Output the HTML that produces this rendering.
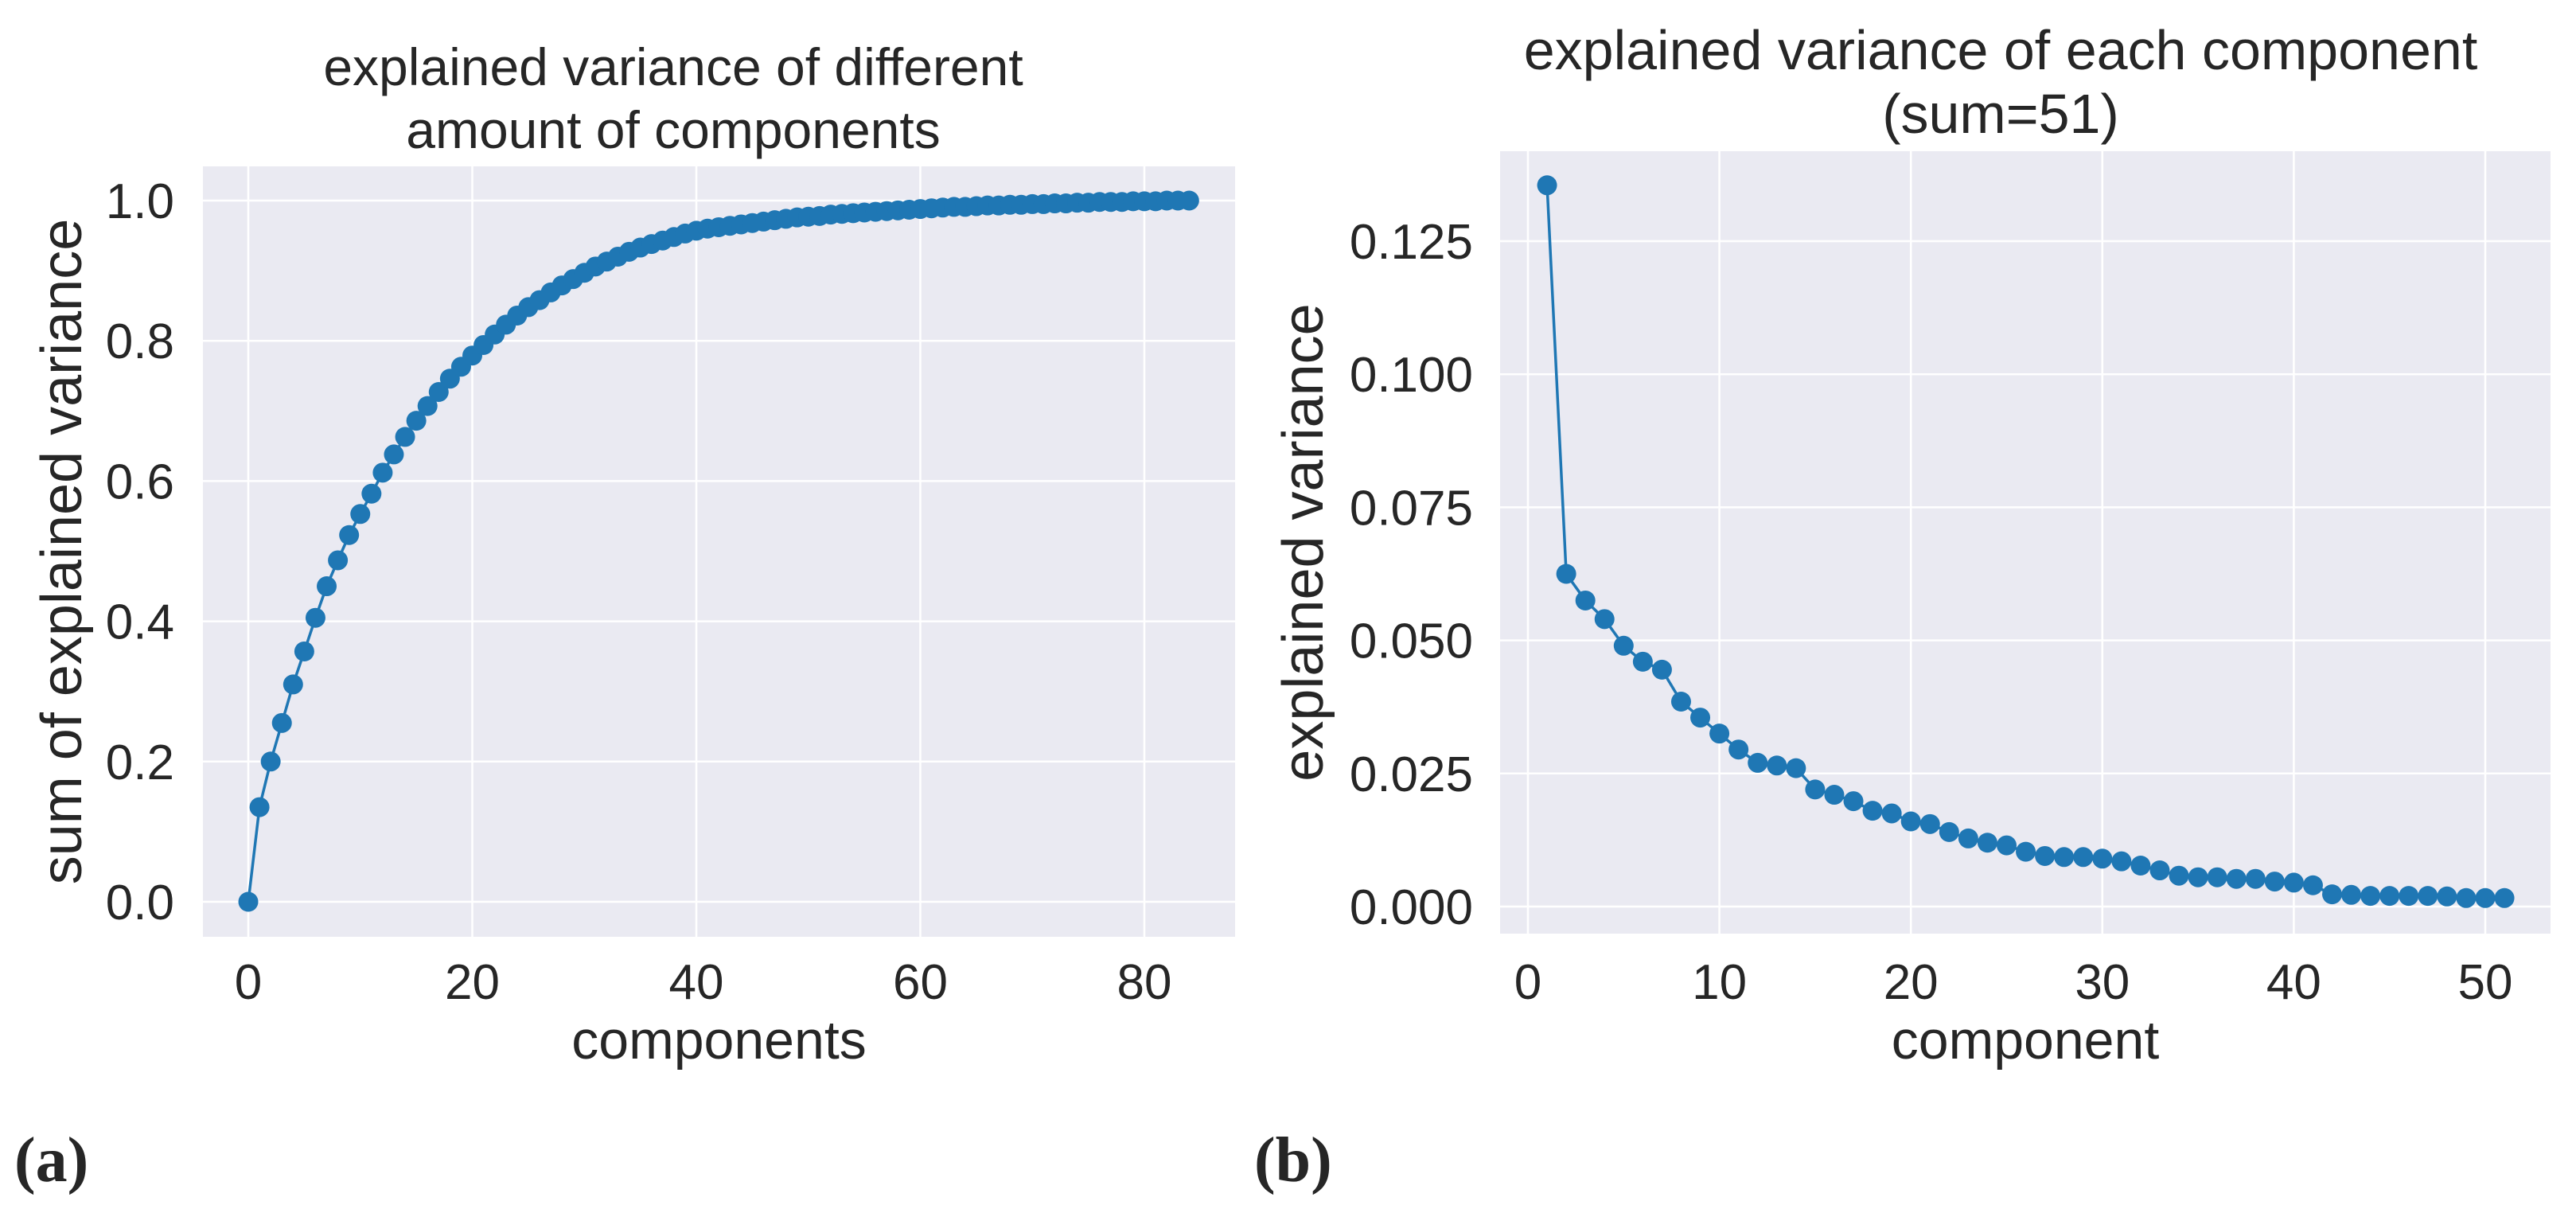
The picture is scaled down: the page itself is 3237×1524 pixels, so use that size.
<!DOCTYPE html>
<html><head><meta charset="utf-8"><style>
html,body{margin:0;padding:0;background:#fff}
svg{display:block}
text{font-family:"Liberation Sans",sans-serif;fill:#262626}
</style></head><body>
<svg id="c" width="3237" height="1524" xmlns="http://www.w3.org/2000/svg"></svg>
<script>
const cumValues = [0,.135,.2,.255,.31,.357,.405,.45,.487,.523,
.553,.582,.612,.638,.663,.686,.707,.727,.746,.763,
.779,.794,.809,.823,.836,.848,.858,.869,.879,.888,
.897,.906,.913,.92,.927,.933,.938,.943,.948,.953,
.957,.96,.962,.964,.966,.968,.97,.972,.974,.976,
.977,.978,.98,.981,.982,.983,.984,.985,.986,.987,
.988,.989,.99,.991,.991,.992,.993,.993,.994,.994,
.995,.995,.996,.996,.997,.997,.998,.998,.998,.999,
.999,.999,1,1,1];
const leftXTicks = [0,20,40,60,80];
const leftYTicks = [0,0.2,0.4,0.6,0.8,1.0];
const leftYLabels = ["0.0","0.2","0.4","0.6","0.8","1.0"];
const compValues = [.1355,.0625,.0575,.054,.049,.046,.0445,.0385,.0355,.0325,
.0295,.027,.0265,.026,.022,.021,.0198,.018,.0175,.016,
.0155,.014,.0128,.012,.0115,.0103,.0095,.0093,.0093,.009,
.0085,.0077,.0068,.0058,.0055,.0055,.0052,.0052,.0047,.0045,
.004,.0023,.0022,.002,.002,.002,.002,.0019,.0016,.0016,.0016];
const rightXTicks = [0,10,20,30,40,50];
const rightYTicks = [0,0.025,0.05,0.075,0.1,0.125];
const rightYLabels = ["0.000","0.025","0.050","0.075","0.100","0.125"];

const svg = document.getElementById('c');
const NS = 'http://www.w3.org/2000/svg';
function mk(tag, attrs, parent){const e=document.createElementNS(NS,tag);for(const k in attrs)e.setAttribute(k,attrs[k]);(parent||svg).appendChild(e);return e;}
function txt(s, attrs, parent){const e=mk('text',attrs,parent);e.textContent=s;return e;}

function panel(o){
  const g = mk('g',{});
  
  
  const sx = v => o.x0px + (v - o.xa) * (o.x1px - o.x0px) / (o.xb - o.xa);
  const sy = v => o.y0px + (v - o.ya) * (o.y1px - o.y0px) / (o.yb - o.ya);
  const bg = mk('rect',{x:o.L,y:o.T,width:o.R-o.L,height:o.B-o.T,fill:'#eaeaf2'},g);
  
  
  o.xticks.forEach(t=>{
    const l = mk('line',{x1:sx(t),x2:sx(t),y1:o.T,y2:o.B,stroke:'#fff','stroke-width':2.5},g);
    
    
    const tl = txt(String(t),{x:sx(t),y:1255,'font-size':62,'text-anchor':'middle'},g);
    
    
  });
  o.yticks.forEach((t,i)=>{
    const l = mk('line',{x1:o.L,x2:o.R,y1:sy(t),y2:sy(t),stroke:'#fff','stroke-width':2.5},g);
    
    
    const tl = txt(o.ylabels[i],{x:o.ylabRight,y:sy(t)+22,'font-size':62,'text-anchor':'end'},g);
    
    
  });
  const pts = o.values.map((v,i)=>[sx(o.xstart+i), sy(v)]);
  const line = mk('polyline',{points:pts.map(p=>p.join(',')).join(' '),fill:'none',stroke:'#1f77b4','stroke-width':3.5},g);
  
  
  pts.forEach(p=>{
    const c = mk('circle',{cx:p[0],cy:p[1],r:12.5,fill:'#1f77b4'},g);
    
    
  });
  o.title.forEach((s,i)=>{
    const t = txt(s,{x:o.titleX,y:o.titleY[i],'font-size':o.titleSize,'text-anchor':'middle'},g);
    
    
  });
  const xl = txt(o.xlabel,{x:(o.L+o.R)/2,y:1330,'font-size':68,'text-anchor':'middle'},g);
  
  
  const yc = (o.T+o.B)/2;
  const yl = txt(o.ylabel,{x:0,y:0,'font-size':72,'text-anchor':'middle',transform:`translate(${o.ylabX},${yc}) rotate(-90)`},g);
  
  
}

panel({name:'cumulative-variance-chart',L:255,R:1552,T:209,B:1177,
  xa:0,xb:80,x0px:312,x1px:1438,ya:0,yb:1,y0px:1133,y1px:252,
  xticks:leftXTicks,yticks:leftYTicks,ylabels:leftYLabels,ylabRight:219,
  values:cumValues,xstart:0,titleSize:66,titleX:846,
  title:['explained variance of different','amount of components'],titleY:[107,186],
  xlabel:'components',ylabel:'sum of explained variance',ylabX:102});
panel({name:'component-variance-chart',L:1885,R:3205,T:190,B:1173,
  xa:0,xb:50,x0px:1920,x1px:3123,ya:0,yb:0.125,y0px:1139,y1px:303,
  xticks:rightXTicks,yticks:rightYTicks,ylabels:rightYLabels,ylabRight:1851,
  values:compValues,xstart:1,titleSize:70,titleX:2514,
  title:['explained variance of each component','(sum=51)'],titleY:[87,167],
  xlabel:'component',ylabel:'explained variance',ylabX:1662});

const a = txt('(a)',{x:18,y:1484,'font-size':80,'font-weight':'bold'});


a.style.fontFamily='"Liberation Serif",serif';
const b = txt('(b)',{x:1576,y:1484,'font-size':80,'font-weight':'bold'});


b.style.fontFamily='"Liberation Serif",serif';
</script>
</body></html>
